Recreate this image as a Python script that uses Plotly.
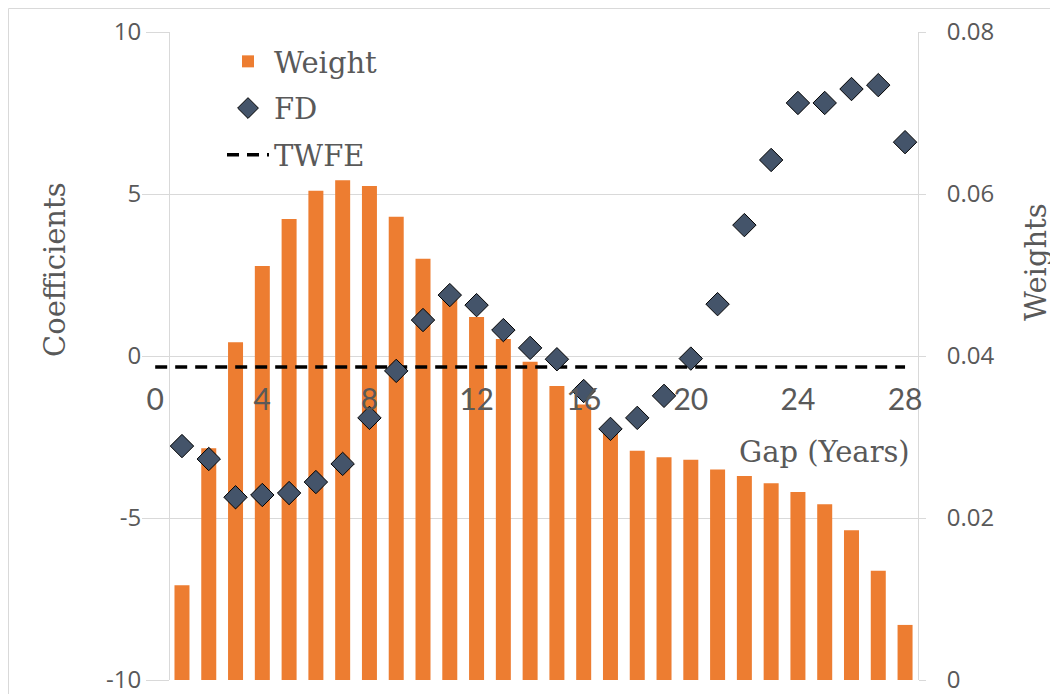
import plotly.graph_objects as go

# ---------------- data ----------------
gap = list(range(1, 29))
weights = [0.0117, 0.0286, 0.0417, 0.0511, 0.0569, 0.0604, 0.0617, 0.0610,
           0.0572, 0.0520, 0.0475, 0.0448, 0.0421, 0.0393, 0.0363, 0.0340,
           0.0309, 0.0283, 0.0275, 0.0272, 0.0260, 0.0252, 0.0243, 0.0232,
           0.0217, 0.0185, 0.0135, 0.0068]
fd = [-2.78, -3.18, -4.36, -4.29, -4.23, -3.89, -3.33, -1.91,
      -0.46, 1.11, 1.88, 1.57, 0.80, 0.25, -0.10, -1.08,
      -2.25, -1.91, -1.23, -0.08, 1.60, 4.04, 6.05, 7.81,
      7.81, 8.24, 8.36, 6.60]
twfe_coef = -0.34
twfe_span = [0, 28]
x_ticks = [0, 4, 8, 12, 16, 20, 24, 28]
coef_ticks = [-10, -5, 0, 5, 10]
coef_tick_text = ["-10", "-5", "0", "5", "10"]
weight_ticks = [0, 0.02, 0.04, 0.06, 0.08]
weight_tick_text = ["0", "0.02", "0.04", "0.06", "0.08"]

# ---------------- styling ----------------
W, H = 1058, 694
OFF = 8  # page body margin
GRID = "#d9d9d9"
TXT = "#595959"
SERIF = "DejaVu Serif"


def px(x):
    return (x - OFF) / W


def py(y):
    return 1 - (y - OFF) / H


fig = go.Figure()

fig.add_trace(go.Bar(
    x=gap, y=weights, name="Weight", width=0.56,
    marker=dict(color="#ED7D31", line=dict(width=0)),
    xaxis="x", yaxis="y", legendrank=1, legendgroup="w",
))
fig.add_trace(go.Scatter(
    x=twfe_span, y=[twfe_coef] * len(twfe_span), mode="lines", name="TWFE",
    line=dict(color="black", width=3.5, dash="12px,8px"),
    xaxis="x", yaxis="y2", legendrank=3, legendgroup="t",
))
fig.add_trace(go.Scatter(
    x=gap, y=fd, mode="markers", name="FD",
    marker=dict(symbol="diamond", size=18, color="#44546A",
                line=dict(color="black", width=1)),
    xaxis="x", yaxis="y2", legendrank=2, legendgroup="f",
))

fig.update_layout(
    template="none",
    width=W, height=H, autosize=False,
    margin=dict(l=0, r=0, t=0, b=0, pad=0, autoexpand=False),
    paper_bgcolor="white", plot_bgcolor="rgba(0,0,0,0)",
    font=dict(family="Open Sans", color=TXT),
    xaxis=dict(
        domain=[px(142), px(925)], range=[-0.493, 28.745],
        anchor="free", position=py(356), automargin=False,
        tickmode="array", tickvals=x_ticks,
        showgrid=False, zeroline=False, showline=False, ticks="",
        tickfont=dict(family="Lato", size=30, color=TXT),
        ticklabelstandoff=23,
    ),
    yaxis=dict(
        domain=[py(680), py(32)], range=[0, 0.08], automargin=False,
        side="right", anchor="free", position=px(918),
        tickmode="array", tickvals=weight_ticks, ticktext=weight_tick_text,
        showgrid=True, gridcolor=GRID, gridwidth=1, zeroline=False,
        showline=True, linecolor=GRID, linewidth=1,
        ticks="outside", ticklen=7, tickcolor=GRID,
        tickfont=dict(family="Open Sans", size=24, color=TXT),
        ticklabelstandoff=16,
    ),
    yaxis2=dict(
        overlaying="y", range=[-10, 10], automargin=False,
        side="left", anchor="free", position=px(169),
        tickmode="array", tickvals=coef_ticks, ticktext=coef_tick_text,
        showgrid=False, zeroline=False,
        showline=True, linecolor=GRID, linewidth=1,
        ticks="outside", ticklen=23, tickcolor=GRID,
        tickfont=dict(family="Open Sans", size=24, color=TXT),
    ),
    legend=dict(
        x=px(222), y=py(36), xanchor="left", yanchor="top",
        bgcolor="rgba(0,0,0,0)", borderwidth=0,
        font=dict(family=SERIF, size=29, color=TXT),
        itemwidth=42, tracegroupgap=6,
    ),
    showlegend=True,
    annotations=[
        dict(text="Gap (Years)", xref="paper", yref="paper",
             x=px(912), y=py(452), xanchor="right", yanchor="middle",
             showarrow=False, font=dict(family=SERIF, size=29, color=TXT)),
        dict(text="Coefficients", xref="paper", yref="paper",
             x=px(55), y=py(270), xanchor="center", yanchor="middle",
             textangle=-90, showarrow=False,
             font=dict(family=SERIF, size=29, color=TXT)),
        dict(text="Weights", xref="paper", yref="paper",
             x=px(1036), y=py(262), xanchor="center", yanchor="middle",
             textangle=-90, showarrow=False,
             font=dict(family=SERIF, size=29, color=TXT)),
    ],
    shapes=[
        dict(type="line", xref="paper", yref="paper", x0=0.0005, x1=1.0,
             y0=0.9993, y1=0.9993, line=dict(color=GRID, width=1)),
        dict(type="line", xref="paper", yref="paper", x0=0.0005, x1=0.0005,
             y0=0.9993, y1=0.0, line=dict(color=GRID, width=1)),
    ],
)

fig.write_html("out.html")
